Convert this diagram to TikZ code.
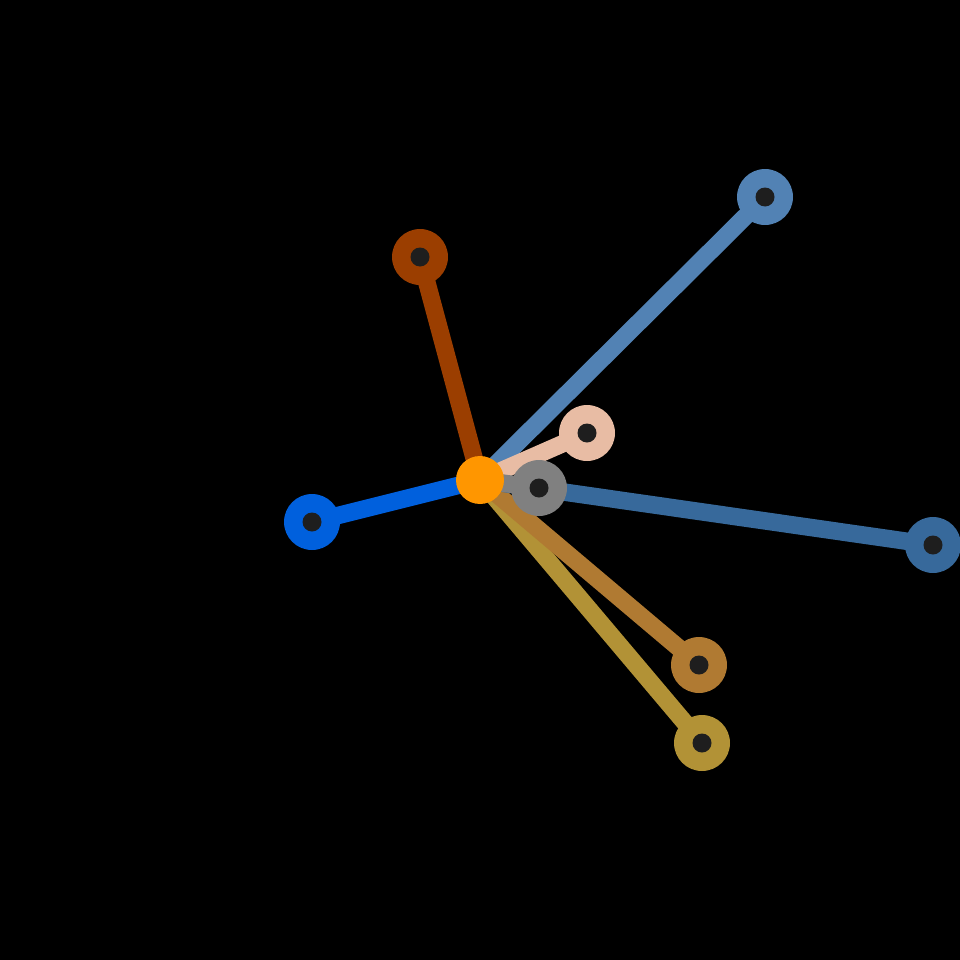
\documentclass[tikz,border=0pt]{standalone}
\usepackage{tikz}
\usetikzlibrary{positioning,calc}

\definecolor{hubc}{RGB}{255,150,0}
\definecolor{rustc}{RGB}{155,62,0}
\definecolor{steelc}{RGB}{82,130,180}
\definecolor{peachc}{RGB}{232,188,164}
\definecolor{greyc}{RGB}{128,128,128}
\definecolor{navyc}{RGB}{55,105,155}
\definecolor{royalc}{RGB}{0,96,221}
\definecolor{bronzec}{RGB}{176,122,50}
\definecolor{goldc}{RGB}{178,146,54}
\definecolor{dotc}{RGB}{30,30,30}

\pgfdeclarelayer{bg}
\pgfdeclarelayer{spokes}
\pgfsetlayers{bg,spokes,main}

\tikzset{
  link/.style={line width=0.35cm, draw=#1},
  leaf/.style={circle, fill=#1, minimum size=1.12cm, inner sep=0pt,
    path picture={\fill[dotc] (path picture bounding box.center) circle (0.19cm);}},
  hub/.style={circle, fill=hubc, minimum size=0.96cm, inner sep=0pt}
}

\begin{document}
\begin{tikzpicture}[x=0.02cm,y=-0.02cm]
            \begin{pgfonlayer}{bg}
            \fill[black] (0,0) rectangle (960,960);
            \end{pgfonlayer}
            \useasboundingbox (0,0) rectangle (960,960);

            \node (rust)   [leaf=rustc]   at (420,257) {};
            \node (steel)  [leaf=steelc]  at (765,197) {};
            \node (peach)  [leaf=peachc]  at (587,433) {};
            \node (navy)   [leaf=navyc]   at (933,545) {};
            \node (royal)  [leaf=royalc]  at (312,522) {};
            \node (bronze) [leaf=bronzec] at (699,665) {};
            \node (gold)   [leaf=goldc]   at (702,743) {};
            \node (grey)   [leaf=greyc]   at (539,488) {};

            \node (hub) [hub] at (480,480) {};

            % spokes go under the leaves
            \begin{pgfonlayer}{spokes}
            \draw[link=rustc]   (hub.center) -- (rust.center);
            \draw[link=goldc]   (hub.center) -- (gold.center);
            \draw[link=bronzec] (hub.center) -- (bronze.center);
            \draw[link=navyc]   (hub.center) -- (navy.center);
            \draw[link=royalc]  (hub.center) -- (royal.center);
            \draw[link=steelc]  (hub.center) -- (steel.center);
            \draw[link=peachc]  (hub.center) -- (peach.center);
            \draw[link=greyc]   (hub.center) -- (grey.center);
            \end{pgfonlayer}
\end{tikzpicture}
\end{document}
